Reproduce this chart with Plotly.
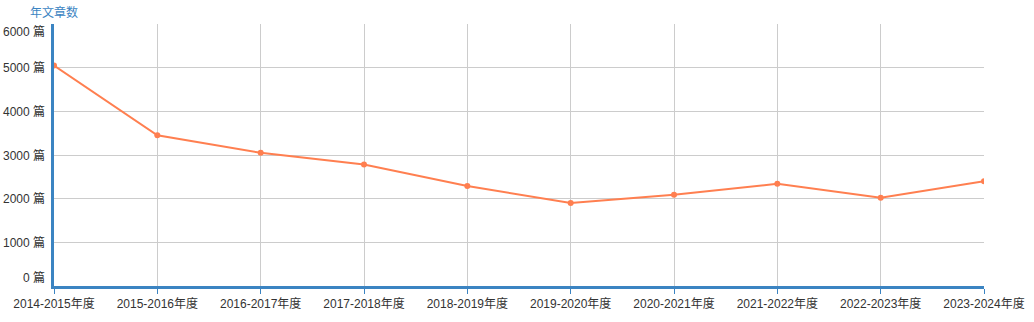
import plotly.graph_objects as go

categories = ["2014-2015年度", "2015-2016年度", "2016-2017年度", "2017-2018年度",
              "2018-2019年度", "2019-2020年度", "2020-2021年度", "2021-2022年度",
              "2022-2023年度", "2023-2024年度"]
article_counts = [5050, 3450, 3050, 2780, 2290, 1900, 2090, 2340, 2020, 2400]
y_ticks = [0, 1000, 2000, 3000, 4000, 5000, 6000]
y_suffix = " 篇"
y_title = "年文章数"

AXIS_BLUE = "#3b84c2"
LINE_COLOR = "#ff7f50"
FONT = "Liberation Sans, Noto Sans CJK SC, DejaVu Sans, sans-serif"

fig = go.Figure()
fig.add_trace(go.Scatter(
    x=categories, y=article_counts, mode="lines+markers",
    line=dict(color=LINE_COLOR, width=2),
    marker=dict(color=LINE_COLOR, size=6),
    hoverinfo="x+y",
))

fig.update_layout(
    width=1034, height=322,
    margin=dict(l=54, r=50, t=24, b=36),
    plot_bgcolor="white", paper_bgcolor="white",
    showlegend=False,
    font=dict(family=FONT, size=12, color="#333333"),
)
fig.update_xaxes(
    type="category", range=[0, len(categories) - 1],
    automargin=False,
    showgrid=True, gridcolor="#cccccc", gridwidth=1,
    showline=True, linecolor=AXIS_BLUE, linewidth=3,
    ticks="outside", tickcolor=AXIS_BLUE, ticklen=5, tickwidth=1,
    tickfont=dict(size=12, color="#333333"),
    zeroline=False,
)
fig.update_yaxes(
    range=[y_ticks[0], y_ticks[-1]], tickvals=y_ticks,
    automargin=False,
    showgrid=True, gridcolor="#cccccc", gridwidth=1,
    showline=True, linecolor=AXIS_BLUE, linewidth=3,
    showticklabels=False, ticks="", zeroline=False,
)

# y tick labels (end labels nudged inward as in the original)
for v in y_ticks:
    shift = 0
    if v == y_ticks[0]:
        shift = 9
    elif v == y_ticks[-1]:
        shift = -7
    fig.add_annotation(
        x=0, xref="paper", y=v, yref="y", text=f"{v}{y_suffix}",
        showarrow=False, xanchor="right", yanchor="middle",
        xshift=-7, yshift=shift,
        font=dict(size=12, color="#333333", family=FONT),
    )

fig.add_annotation(
    x=0, xref="paper", y=1, yref="paper", text=y_title,
    showarrow=False, xanchor="center", yanchor="bottom", yshift=2,
    font=dict(size=12, color=AXIS_BLUE, family=FONT),
)

fig.write_html("out.html")
